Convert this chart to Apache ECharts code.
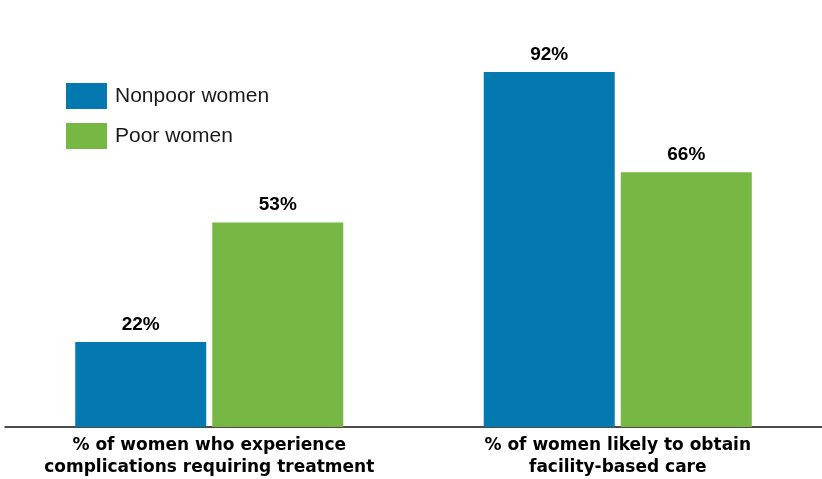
<!DOCTYPE html>
<html>
<head>
<meta charset="utf-8">
<script src="https://cdn.jsdelivr.net/npm/echarts@6/dist/echarts.min.js"></script>
<style>
  html, body { margin: 0; padding: 0; background: #fff; }
  #chart { width: 822px; height: 479px; }
</style>
</head>
<body>
<div id="chart"></div>
<script>
// Share of women by measure, nonpoor vs poor
const categories = [
  '% of women who experience\ncomplications requiring treatment',
  '% of women likely to obtain\nfacility-based care'
];
const seriesNames = ['Nonpoor women', 'Poor women'];
const nonpoorValues = [22, 92];
const poorValues = [53, 66];
const colors = ['#0479B0', '#76B843'];

const chart = echarts.init(document.getElementById('chart'), null, { renderer: 'canvas' });

const valueLabel = {
  show: true,
  position: 'top',
  distance: 8,
  formatter: '{c}%',
  color: '#000',
  fontFamily: 'Liberation Sans, Arial, sans-serif',
  fontWeight: 'bold',
  fontSize: 19
};

chart.setOption({
  animation: false,
  backgroundColor: '#fff',
  grid: { left: 5, right: 0, top: 41, bottom: 52, containLabel: false },
  legend: {
    orient: 'vertical',
    left: 61,
    top: 78,
    icon: 'rect',
    itemWidth: 41,
    itemHeight: 26,
    itemGap: 14,
    textStyle: {
      color: '#1a1a1a',
      fontFamily: 'Liberation Sans, Arial, sans-serif',
      fontSize: 21,
      padding: [0, 0, 0, 3]
    },
    data: seriesNames
  },
  xAxis: {
    type: 'category',
    data: categories,
    axisTick: { show: false },
    axisLine: { lineStyle: { color: '#111', width: 1.5 } },
    axisLabel: {
      margin: 8,
      color: '#000',
      fontFamily: 'DejaVu Sans, sans-serif',
      fontWeight: 'bold',
      fontSize: 17,
      lineHeight: 22,
      interval: 0
    }
  },
  yAxis: {
    type: 'value',
    min: 0,
    max: 100,
    show: false,
    splitLine: { show: false }
  },
  series: [
    {
      name: seriesNames[0],
      type: 'bar',
      data: nonpoorValues,
      barWidth: 131,
      barGap: '4.6%',
      itemStyle: { color: colors[0] },
      label: valueLabel
    },
    {
      name: seriesNames[1],
      type: 'bar',
      data: poorValues,
      barWidth: 131,
      barGap: '4.6%',
      itemStyle: { color: colors[1] },
      label: valueLabel
    }
  ]
});
</script>
</body>
</html>
